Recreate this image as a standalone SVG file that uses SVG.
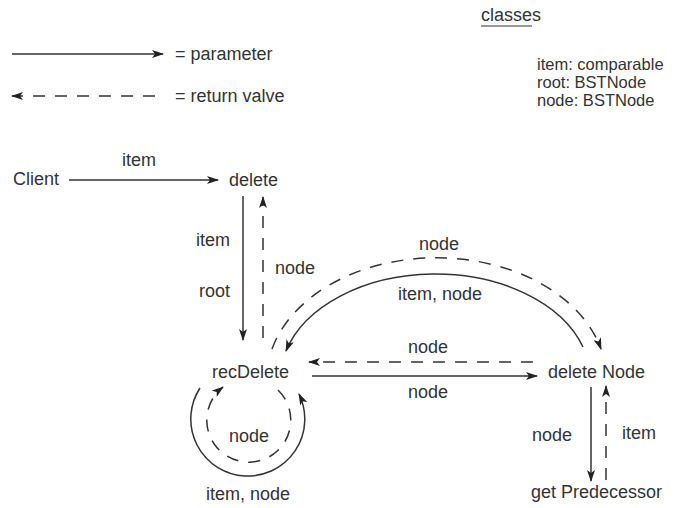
<svg xmlns="http://www.w3.org/2000/svg" width="683" height="508" viewBox="0 0 683 508">
<defs>
<marker id="ah" viewBox="0 0 12 8" refX="11" refY="4" markerWidth="12" markerHeight="8" markerUnits="userSpaceOnUse" orient="auto">
<path d="M0,0 L12,4 L0,8 L3,4 Z" fill="#222"/>
</marker>
</defs>
<style>
text{font-family:"Liberation Sans",Arial,sans-serif;font-size:18px;fill:#333}
.cl{font-size:16.5px}
.s{fill:none;stroke:#333;stroke-width:1.5}
.d{fill:none;stroke:#333;stroke-width:1.5;stroke-dasharray:12,10}
</style>
<rect width="683" height="508" fill="#fff"/>
<g id="legend">
<line class="s" x1="12" y1="54" x2="163" y2="54" marker-end="url(#ah)"/>
<text x="175" y="60">= parameter</text>
<line class="d" x1="155" y1="96" x2="12" y2="96" marker-end="url(#ah)"/>
<text x="175" y="102">= return valve</text>
</g>
<g id="classes">
<text x="481" y="21">classes</text>
<line x1="481" y1="26" x2="532" y2="26" stroke="#333" stroke-width="1.2"/>
<text class="cl" x="537" y="70">item: comparable</text>
<text class="cl" x="537" y="88">root: BSTNode</text>
<text class="cl" x="537" y="106">node: BSTNode</text>
</g>
<g id="client"><text x="13" y="185">Client</text></g>
<g id="delete"><text x="229" y="186">delete</text></g>
<g id="recDelete"><text x="212" y="378">recDelete</text></g>
<g id="deleteNode"><text x="548" y="378">delete Node</text></g>
<g id="getPredecessor"><text x="531" y="498">get Predecessor</text></g>
<g id="connectors">
<line class="s" x1="69" y1="180" x2="218" y2="180" marker-end="url(#ah)"/>
<text x="139" y="166" text-anchor="middle">item</text>
<line class="s" x1="243" y1="196" x2="243" y2="340" marker-end="url(#ah)"/>
<line class="d" x1="263" y1="338" x2="263" y2="197" marker-end="url(#ah)"/>
<text x="230" y="246" text-anchor="end">item</text>
<text x="230" y="297" text-anchor="end">root</text>
<text x="275" y="274">node</text>
<path class="d" d="M272,349 A170,122 0 0 1 601,349" marker-end="url(#ah)"/>
<path class="s" d="M583,347 A155,105 0 0 0 286,351" marker-end="url(#ah)"/>
<text x="439" y="250" text-anchor="middle">node</text>
<text x="440" y="300" text-anchor="middle">item, node</text>
<line class="d" x1="533" y1="362" x2="309" y2="362" marker-end="url(#ah)"/>
<text x="428" y="353" text-anchor="middle">node</text>
<line class="s" x1="312" y1="376" x2="537" y2="376" marker-end="url(#ah)"/>
<text x="428" y="398" text-anchor="middle">node</text>
<line class="s" x1="591" y1="387" x2="591" y2="481" marker-end="url(#ah)"/>
<line class="d" x1="606" y1="480" x2="606" y2="386" marker-end="url(#ah)"/>
<text x="532" y="441">node</text>
<text x="622" y="439">item</text>
<path class="s" d="M200,388 A57,57 0 1 0 299,394" marker-end="url(#ah)"/>
<path class="d" d="M278,390 A42,42 0 1 1 223,387" marker-end="url(#ah)"/>
<text x="249" y="442" text-anchor="middle">node</text>
<text x="248" y="500" text-anchor="middle">item, node</text>
</g>
</svg>
